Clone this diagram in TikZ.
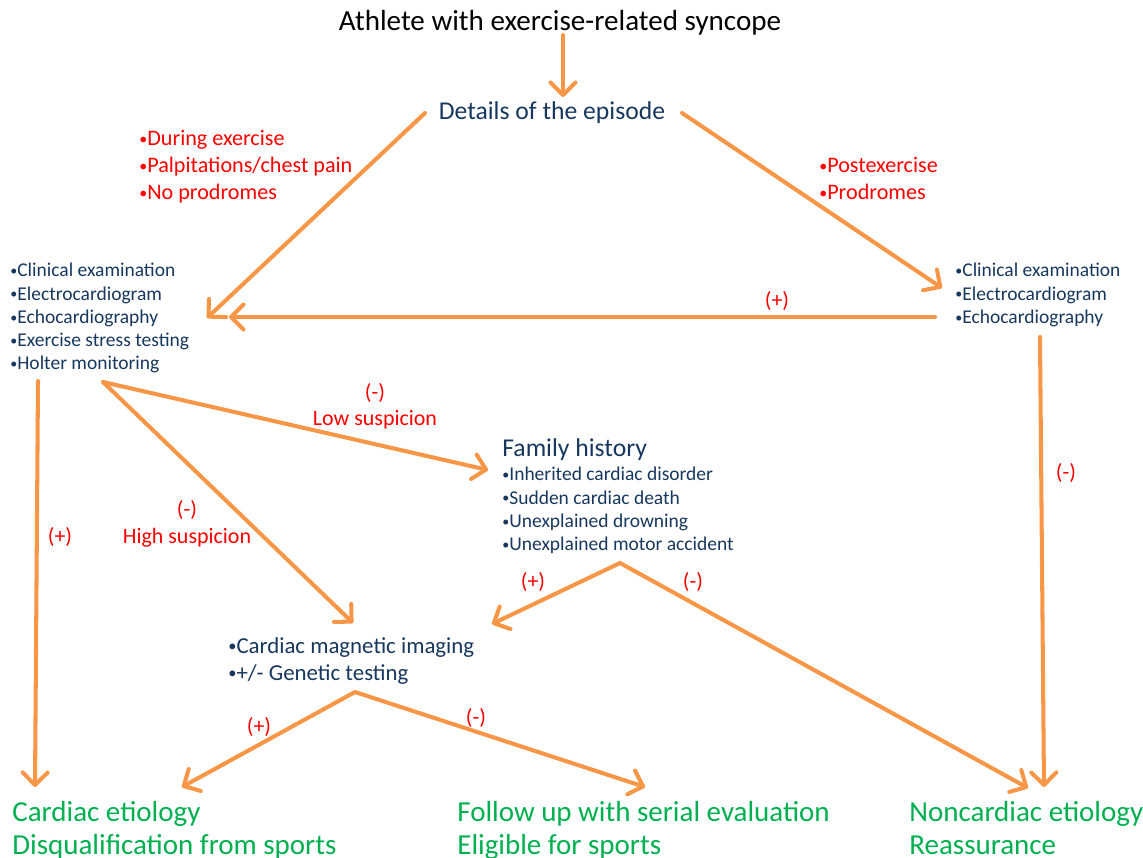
\documentclass[tikz,border=0pt]{standalone}
\usepackage{fontspec}
\setmainfont{Carlito}
\usetikzlibrary{arrows.meta}
\definecolor{FlowOrange}{RGB}{247,150,70}
\definecolor{TextNavy}{RGB}{23,55,94}
\definecolor{TextRed}{RGB}{255,0,0}
\definecolor{TextGreen}{RGB}{0,176,80}
\newcommand{\dotitem}{\raisebox{0.12ex}{\scalebox{0.72}{•}}}
\tikzset{
	>={Straight Barb[length=2.5mm,width=5mm,round]},
	flow/.style={FlowOrange, line width=2.3pt, line cap=round, ->},
	headtext/.style={black, font=\fontsize{16.55}{19.8}\selectfont, inner sep=0pt},
	steptext/.style={TextNavy, font=\fontsize{14.6}{17.5}\selectfont, inner sep=0pt},
	listtext/.style={TextNavy, font=\fontsize{11.1}{13.2}\selectfont, inner sep=0pt, align=left},
	cuetext/.style={TextRed, font=\fontsize{12.6}{15.3}\selectfont, inner sep=0pt, align=left},
	imagetext/.style={TextNavy, font=\fontsize{13}{15.4}\selectfont, inner sep=0pt, align=left},
	signlabel/.style={TextRed, font=\fontsize{12.5}{15}\selectfont, inner sep=0pt, align=center},
	outcome/.style={TextGreen, font=\fontsize{16.5}{18.7}\selectfont, inner sep=0pt, align=left},
}

\begin{document}
\begin{tikzpicture}[x=0.02cm, y=-0.02cm]
		\useasboundingbox (0,0) rectangle (1143,858);
		
		% text blocks
		\node[headtext, anchor=base] (athlete) at (560,31) {Athlete with exercise-related syncope};
		\node[steptext, anchor=base] (episode) at (552,120) {Details of the episode};
		\node[cuetext, anchor=north west] (cueleft) at (139,130)
		{\dotitem During exercise\\\dotitem Palpitations/chest pain\\\dotitem No prodromes};
		\node[cuetext, anchor=north west] (cueright) at (819,157)
		{\dotitem Postexercise\\\dotitem Prodromes};
		\node[listtext, anchor=north west] (fullwork) at (10,263)
		{\dotitem Clinical examination\\\dotitem Electrocardiogram\\\dotitem Echocardiography\\\dotitem Exercise stress testing\\\dotitem Holter monitoring};
		\node[listtext, anchor=north west] (basicwork) at (955,263)
		{\dotitem Clinical examination\\\dotitem Electrocardiogram\\\dotitem Echocardiography};
		\node[steptext, anchor=base west] (family) at (502,456) {Family history};
		\node[listtext, anchor=north west] (familylist) at (502,467)
		{\dotitem Inherited cardiac disorder\\\dotitem Sudden cardiac death\\\dotitem Unexplained drowning\\\dotitem Unexplained motor accident};
		\node[imagetext, anchor=north west] (imaging) at (228,637)
		{\dotitem Cardiac magnetic imaging\\\dotitem +/- Genetic testing};
		
		% outcomes
		\node[outcome, anchor=north west] (cardiac) at (12,801) {Cardiac etiology\\Disqualification from sports};
		\node[outcome, anchor=north west] (followup) at (457,801) {Follow up with serial evaluation\\Eligible for sports};
		\node[outcome, anchor=north west] (noncardiac) at (909,801) {Noncardiac etiology\\Reassurance};
		
		% labels on the arrows
		\node[signlabel] (plusback) at (777,301) {(+)};
		\node[signlabel] (minusright) at (1066,473) {(-)};
		\node[signlabel] (plusleft) at (60,537) {(+)};
		\node[signlabel] (lowsusp) at (375,406) {(-)\\Low suspicion};
		\node[signlabel] (highsusp) at (187,524) {(-)\\High suspicion};
		\node[signlabel] (plusfam) at (533,582) {(+)};
		\node[signlabel] (minusfam) at (693,582) {(-)};
		\node[signlabel] (plusimg) at (259,727) {(+)};
		\node[signlabel] (minusimg) at (476,718) {(-)};
		
		% arrow ends
		\coordinate (athS) at (563,35);
		\coordinate (epN) at (563,97);
		\coordinate (epL) at (425,113);
		\coordinate (epR) at (682,113);
		\coordinate (fullIn) at (207,318);
		\coordinate (fullSide) at (229,317);
		\coordinate (basicIn) at (942,288);
		\coordinate (basicOut) at (935,317);
		\coordinate (basicDown) at (1040,337);
		\coordinate (fullDown) at (38,381);
		\coordinate (holter) at (103,382);
		\coordinate (familyIn) at (488,470);
		\coordinate (imagingIn) at (353,623);
		\coordinate (familyApex) at (620,563);
		\coordinate (imagingSide) at (492,624);
		\coordinate (imagingApex) at (355,692);
		\coordinate (cardiacIn) at (35,787);
		\coordinate (cardiacSide) at (182,787);
		\coordinate (followIn) at (645,787);
		\coordinate (nonSide) at (1028,788);
		\coordinate (nonIn) at (1044,787);
		
		% arrows
		\draw[flow] (athS) -- (epN);
		\draw[flow] (epL) -- (fullIn);
		\draw[flow] (epR) -- (basicIn);
		\draw[flow] (basicOut) -- (fullSide);
		\draw[flow] (basicDown) -- (nonIn);
		\draw[flow] (fullDown) -- (cardiacIn);
		\draw[flow] (holter) -- (familyIn);
		\draw[flow] (holter) -- (imagingIn);
		\draw[flow] (familyApex) -- (imagingSide);
		\draw[flow] (familyApex) -- (nonSide);
		\draw[flow] (imagingApex) -- (cardiacSide);
		\draw[flow] (imagingApex) -- (followIn);
	\end{tikzpicture}
\end{document}
